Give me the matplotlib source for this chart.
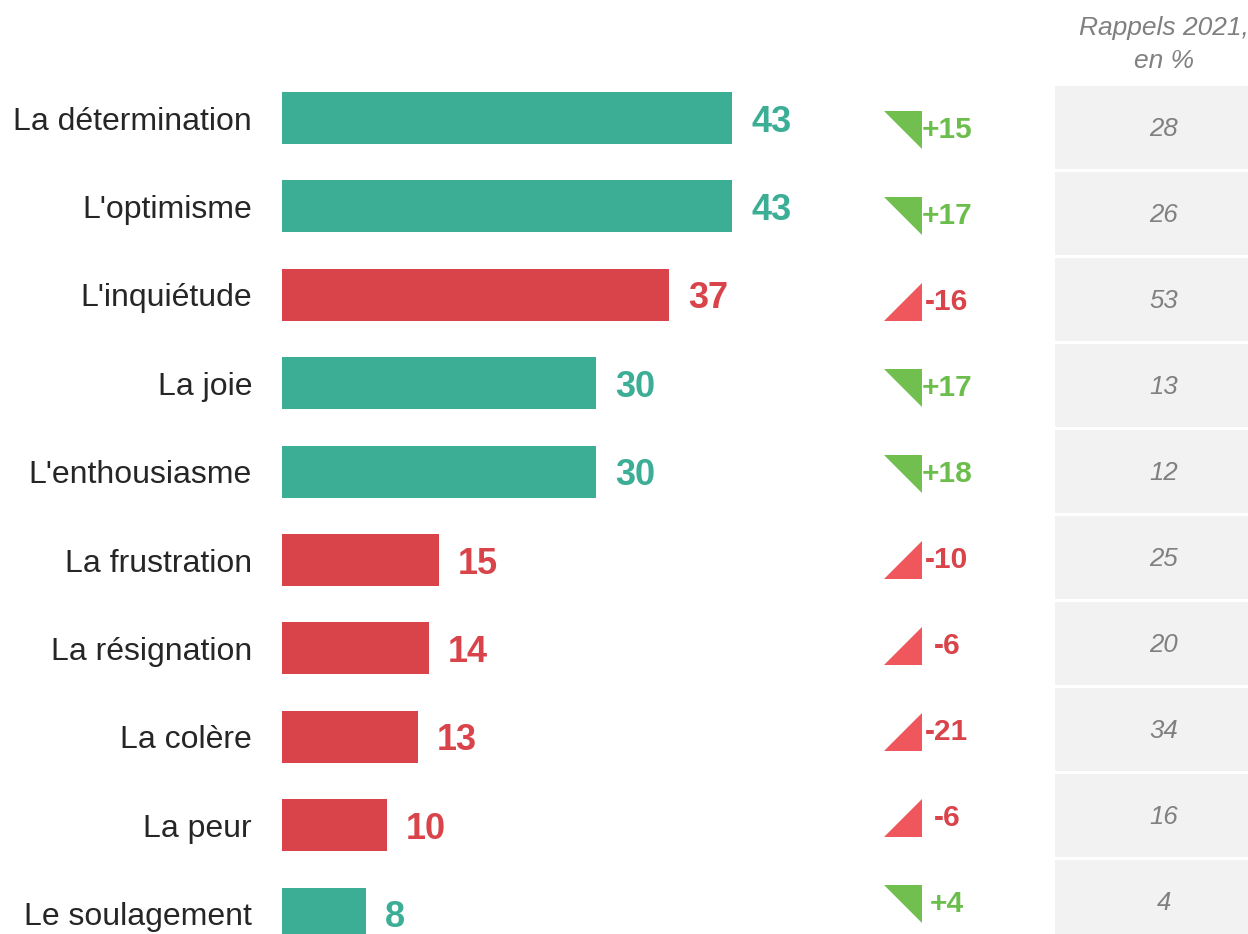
import matplotlib.pyplot as plt
import numpy as np

plt.rcParams['font.family'] = ['Liberation Sans', 'DejaVu Sans']

# data
labels = ["La détermination", "L'optimisme", "L'inquiétude", "La joie", "L'enthousiasme",
          "La frustration", "La résignation", "La colère", "La peur", "Le soulagement"]
values = [43, 43, 37, 30, 30, 15, 14, 13, 10, 8]
positive = [True, True, False, True, True, False, False, False, False, True]
changes = ["+15", "+17", "-16", "+17", "+18", "-10", "-6", "-21", "-6", "+4"]
rappels_2021 = [28, 26, 53, 13, 12, 25, 20, 34, 16, 4]

TEAL, RED = '#3DAE96', '#D9444B'
GREEN_TRI, RED_TRI = '#70BF4F', '#EF575C'
GREEN_TXT = '#6BBE4B'
GREY_TXT = '#808080'

W, H = 1248, 934
fig = plt.figure(figsize=(W / 100, H / 100), dpi=100)

# main bar axes: x in value units, row pitch 88.4 px starting at 118 px
x0, ppu = 282, 10.47
pitch, top = 88.4, 118
ax = fig.add_axes([x0 / W, 0, 1 - x0 / W, 1])
ax.set_xlim(0, (W - x0) / ppu)
ax.set_ylim((H - top) / pitch, -top / pitch)
ax.axis('off')

rows = np.arange(len(labels))
colors = [TEAL if p else RED for p in positive]
ax.barh(rows, values, height=52 / pitch, color=colors)
for i, (v, c) in enumerate(zip(values, colors)):
    ax.text(v + 1.8, i, str(v), color=c, fontsize=26, fontweight='bold',
            va='center_baseline', ha='left')
    ax.text(-30 / ppu, i, labels[i], color='#262626', fontsize=23,
            va='center_baseline', ha='right', clip_on=False)

# right columns: pixel x, rows with pitch 86 starting at 127 px
pitch2, top2 = 86, 127
ax2 = fig.add_axes([0, 0, 1, 1])
ax2.set_xlim(0, W)
ax2.set_ylim((H - top2) / pitch2, -top2 / pitch2)
ax2.axis('off')
ax2.patch.set_alpha(0)

green_tri = [(-1, 1), (1, 1), (1, -1)]
red_tri = [(-1, -1), (1, -1), (1, 1)]
for i, (ch, p) in enumerate(zip(changes, positive)):
    ax2.scatter([902.5], [i + 0.04], s=720, marker=green_tri if p else red_tri,
                color=GREEN_TRI if p else RED_TRI, linewidths=0)
    ax2.text(947, i, ch, color=GREEN_TXT if p else RED, fontsize=21.5,
             fontweight='bold', ha='center', va='center_baseline')

cell_h = 83 / pitch2
ax2.barh(rows, [W - 1055] * len(rows), left=1055, height=cell_h, color='#F2F2F2')
for i, r in enumerate(rappels_2021):
    ax2.text(1164, i, str(r), color=GREY_TXT, fontsize=18.5, style='italic',
             ha='center', va='center_baseline')
ax2.text(1164, -0.96, "Rappels 2021,\nen %", color=GREY_TXT, fontsize=19,
         style='italic', ha='center', va='center', linespacing=1.45)

fig.savefig('out.png', dpi=100)
